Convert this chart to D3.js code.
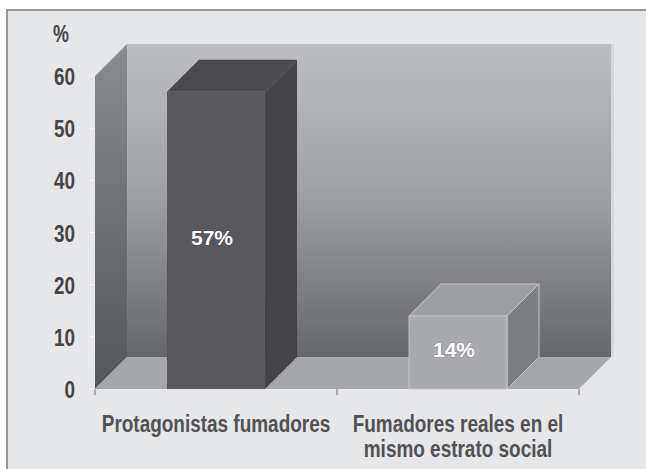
<!DOCTYPE html>
<html>
<head>
<meta charset="utf-8">
<script src="https://cdn.jsdelivr.net/npm/d3@7"></script>
<style>
    body { margin: 0; background: #fff; }
    svg { display: block; }
    .tick-label { font-family: "Liberation Sans", Arial, sans-serif; font-weight: bold; fill: #454547; }
    .cat-label { font-family: "Liberation Sans", Arial, sans-serif; font-weight: bold; fill: #525254; }
    .value-label { font-family: "Liberation Sans", Arial, sans-serif; font-weight: bold; fill: #fff; }
</style>
</head>
<body>
<script>
// data
const categories = ["Protagonistas fumadores", "Fumadores reales en el mismo estrato social"];
const categoryLines = [["Protagonistas fumadores"], ["Fumadores reales en el", "mismo estrato social"]];
const values = [57, 14];
const valueLabels = ["57%", "14%"];
const yTicks = [0, 10, 20, 30, 40, 50, 60];
const yUnit = "%";

const width = 646;
const height = 469;

// 3d depth offset
const dx = 32;
const dy = -32;

// narrow look: squeeze the sans font horizontally
const narrow = 0.82;

const svg = d3.select("body")
    .append("svg")
    .attr("width", width)
    .attr("height", height);

// gradients
const defs = svg.append("defs");

const backGrad = defs.append("linearGradient")
    .attr("id", "back-grad")
    .attr("x1", 0).attr("x2", 0).attr("y1", 0).attr("y2", 1);
backGrad.append("stop").attr("offset", "0%").attr("stop-color", "#bdbec2");
backGrad.append("stop").attr("offset", "45%").attr("stop-color", "#a2a3a7");
backGrad.append("stop").attr("offset", "100%").attr("stop-color", "#66676b");

const sideGrad = defs.append("linearGradient")
    .attr("id", "side-grad")
    .attr("x1", 0).attr("x2", 0).attr("y1", 0).attr("y2", 1);
sideGrad.append("stop").attr("offset", "0%").attr("stop-color", "#8b8c90");
sideGrad.append("stop").attr("offset", "100%").attr("stop-color", "#55565a");

// background + frame
svg.append("rect")
    .attr("x", 0).attr("y", 0)
    .attr("width", width).attr("height", height)
    .attr("fill", "#fff");

svg.append("rect")
    .attr("x", 7).attr("y", 10)
    .attr("width", width + 10).attr("height", height + 10)
    .attr("fill", "#e6e7e9")
    .attr("stroke", "#7a7a7c")
    .attr("stroke-width", 1.5);

// scales
const x = d3.scaleBand()
    .domain(categories)
    .range([95, 579])
    .paddingInner(0.595)
    .paddingOuter(0.2975);

const y = d3.scaleLinear()
    .domain([0, 60])
    .range([389, 76]);

const x0 = x.range()[0];
const x1 = x.range()[1];
const yBase = y(0);
const yTop = y(60);

function poly(points) {
    return "M" + points.map(function (p) { return p.join(","); }).join("L") + "Z";
}

// back wall
svg.append("path")
    .attr("d", poly([[x0 + dx, yTop + dy], [x1 + dx, yTop + dy], [x1 + dx, yBase + dy], [x0 + dx, yBase + dy]]))
    .attr("fill", "url(#back-grad)");

// faint shadow on right edge of back wall
svg.append("rect")
    .attr("x", x1 + dx)
    .attr("y", yTop + dy)
    .attr("width", 3)
    .attr("height", yBase - yTop)
    .attr("fill", "#d6d7d9");

// left wall
svg.append("path")
    .attr("d", poly([[x0, yTop], [x0 + dx, yTop + dy], [x0 + dx, yBase + dy], [x0, yBase]]))
    .attr("fill", "url(#side-grad)");

// floor
svg.append("path")
    .attr("d", poly([[x0, yBase], [x0 + dx, yBase + dy], [x1 + dx, yBase + dy], [x1, yBase]]))
    .attr("fill", "#a6a7ab");

// y tick marks
svg.selectAll(".ytick")
    .data(yTicks)
    .enter()
    .append("line")
    .attr("class", "ytick")
    .attr("x1", x0 - 5)
    .attr("x2", x0)
    .attr("y1", function (d) { return y(d); })
    .attr("y2", function (d) { return y(d); })
    .attr("stroke", "#fafafa")
    .attr("stroke-width", 1);

// y tick labels
svg.selectAll(".ytl")
    .data(yTicks)
    .enter()
    .append("g")
    .attr("class", "ytl")
    .attr("transform", function (d) {
        return "translate(75," + (y(d) + 9) + ") scale(" + narrow + ",1)";
    })
    .append("text")
    .attr("class", "tick-label")
    .attr("text-anchor", "end")
    .style("font-size", "23px")
    .text(function (d) { return d; });

svg.append("g")
    .attr("transform", "translate(61,42) scale(0.78,1)")
    .append("text")
    .attr("class", "tick-label")
    .attr("text-anchor", "middle")
    .style("font-size", "23px")
    .text(yUnit);

// category tick marks
const catTicks = [x0, (x0 + x1) / 2, x1];
svg.selectAll(".xtick")
    .data(catTicks)
    .enter()
    .append("line")
    .attr("class", "xtick")
    .attr("x1", function (d) { return d; })
    .attr("x2", function (d) { return d; })
    .attr("y1", yBase)
    .attr("y2", yBase + 6)
    .attr("stroke", "#9a9a9c")
    .attr("stroke-width", 1.5);

// bars
const barColors = [
    { front: "#59595d", top: "#4a4a4e", side: "#444448", stroke: "none" },
    { front: "#a9aaae", top: "#9d9ea2", side: "#7d7e82", stroke: "#c4c5c8" }
];

const bars = svg.selectAll(".bar")
    .data(values)
    .enter()
    .append("g")
    .attr("class", "bar");

bars.append("path")
    .attr("d", function (d, i) {
        const bx = x(categories[i]);
        const bw = x.bandwidth();
        const by = y(d);
        return poly([[bx, by], [bx + dx, by + dy], [bx + bw + dx, by + dy], [bx + bw, by]]);
    })
    .attr("fill", function (d, i) { return barColors[i].top; })
    .attr("stroke", function (d, i) { return barColors[i].stroke; })
    .attr("stroke-width", 1);

bars.append("path")
    .attr("d", function (d, i) {
        const bx = x(categories[i]) + x.bandwidth();
        const by = y(d);
        return poly([[bx, by], [bx + dx, by + dy], [bx + dx, yBase + dy], [bx, yBase]]);
    })
    .attr("fill", function (d, i) { return barColors[i].side; })
    .attr("stroke", function (d, i) { return barColors[i].stroke; })
    .attr("stroke-width", 1);

bars.append("rect")
    .attr("x", function (d, i) { return x(categories[i]); })
    .attr("y", function (d) { return y(d); })
    .attr("width", x.bandwidth())
    .attr("height", function (d) { return yBase - y(d); })
    .attr("fill", function (d, i) { return barColors[i].front; })
    .attr("stroke", function (d, i) { return barColors[i].stroke; })
    .attr("stroke-width", 1);

// value labels
bars.append("text")
    .attr("class", "value-label")
    .attr("x", function (d, i) { return x(categories[i]) + x.bandwidth() / 2 - 4; })
    .attr("y", function (d) { return (y(d) + yBase) / 2 + 5; })
    .attr("text-anchor", "middle")
    .style("font-size", "21px")
    .style("paint-order", "stroke")
    .style("stroke", "rgba(0,0,0,0.15)")
    .style("stroke-width", "1.5px")
    .text(function (d, i) { return valueLabels[i]; });

// category labels
svg.selectAll(".cat")
    .data(categories)
    .enter()
    .append("g")
    .attr("class", "cat")
    .attr("transform", function (d) {
        return "translate(" + (x(d) + x.bandwidth() / 2) + ",432) scale(0.79,1)";
    })
    .each(function (d, i) {
        const t = d3.select(this).append("text")
            .attr("class", "cat-label")
            .attr("text-anchor", "middle")
            .style("font-size", "24px");
        t.selectAll("tspan")
            .data(categoryLines[i])
            .enter()
            .append("tspan")
            .attr("x", 0)
            .attr("y", function (line, j) { return j * 25; })
            .text(function (line) { return line; });
    });
</script>
</body>
</html>
